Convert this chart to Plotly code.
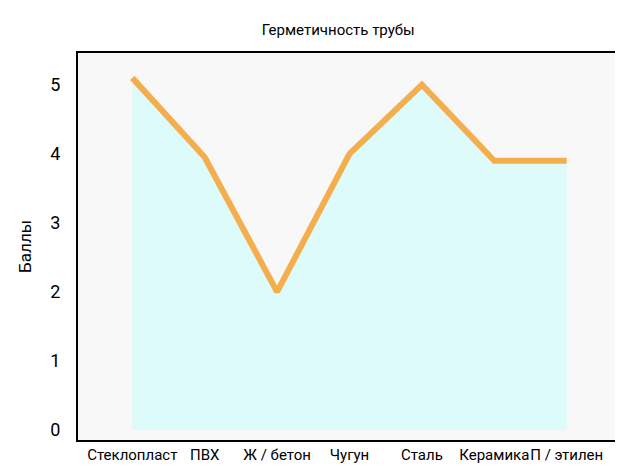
import plotly.graph_objects as go

categories = ["Стеклопласт", "ПВХ", "Ж / бетон", "Чугун", "Сталь", "Керамика", "П / этилен"]
scores = [5.1, 3.95, 2.0, 4.0, 5.0, 3.9, 3.9]

fnt = "Liberation Sans Narrow, Roboto, sans-serif"
fig = go.Figure()
fig.add_trace(go.Scatter(x=categories, y=scores, mode="lines", fill="tozeroy",
                         fillcolor="#dcfbfa", line=dict(color="#f5ae4e", width=6)))
fig.update_layout(
    width=623, height=472, margin=dict(l=70, r=10, t=45, b=40),
    paper_bgcolor="white", plot_bgcolor="#f8f8f8", showlegend=False,
    title=dict(text="Герметичность трубы", x=0.53, y=0.965, xanchor="center",
               font=dict(family=fnt, size=15, color="black")),
    font=dict(family=fnt, color="black"),
)
fig.update_xaxes(range=[-0.75, 6.75], showgrid=False, showline=True, linecolor="black",
                 linewidth=2, mirror=True, tickfont=dict(size=15), ticks="",
                 tickangle=0, automargin=False)
fig.update_yaxes(range=[-0.145, 5.46], showgrid=False, zeroline=False, showline=True,
                 linecolor="black", linewidth=2, mirror=True, tickvals=[0, 1, 2, 3, 4, 5],
                 tickfont=dict(size=18), ticks="", ticklabelstandoff=12, automargin=False,
                 title=dict(text="Баллы", font=dict(size=17), standoff=14))
fig.write_html("out.html")
